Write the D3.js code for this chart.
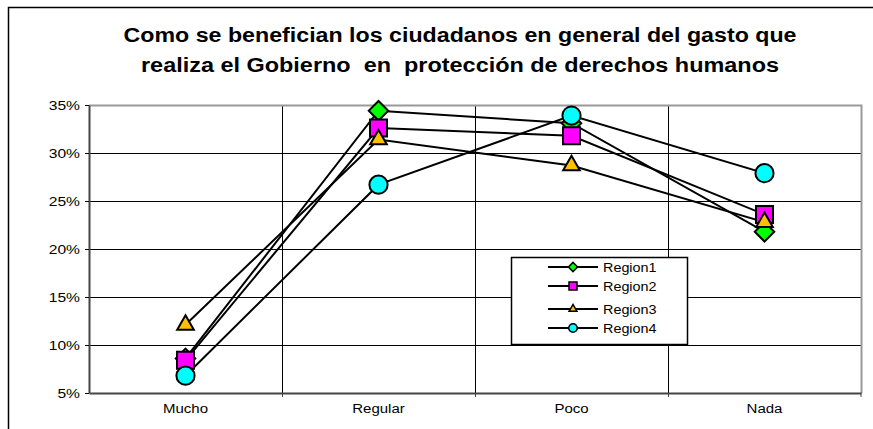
<!DOCTYPE html>
<html>
<head>
<meta charset="utf-8">
<script src="https://cdn.jsdelivr.net/npm/d3@7"></script>
<style>
body { margin: 0; background: #fff; }
svg { display: block; font-family: "Liberation Sans", Arial, sans-serif; }
</style>
</head>
<body>
<script>
// datos
var categorias = ["Mucho", "Regular", "Poco", "Nada"];
var region1 = [0.086, 0.344, 0.331, 0.218];
var region2 = [0.084, 0.326, 0.318, 0.236];
var region3 = [0.121, 0.314, 0.287, 0.228];
var region4 = [0.068, 0.267, 0.339, 0.279];
var nombresSeries = ["Region1", "Region2", "Region3", "Region4"];
var ticksY = [0.05, 0.10, 0.15, 0.20, 0.25, 0.30, 0.35];
var lineasTitulo = ["Como se benefician los ciudadanos en general del gasto que",
	"realiza el Gobierno  en  protección de derechos humanos"];

var width = 873;
var height = 429;
var margen = {top: 105, left: 89, right: 12, bottom: 36};

// estira el texto a lo ancho, como en la imagen original
function estirar(sel, k) {
	sel.each(function() {
		var largo = this.getComputedTextLength();
		d3.select(this).attr("textLength", largo * k).attr("lengthAdjust", "spacingAndGlyphs");
	});
}

var svg = d3.select("body").append("svg")
	.attr("width", width)
	.attr("height", height);

// marco exterior
svg.append("rect")
	.attr("x", 8.5).attr("y", 7.5)
	.attr("width", 880).attr("height", 440)
	.attr("fill", "none").attr("stroke", "#000").attr("stroke-width", 1.5);

// titulo
var anchosTitulo = [673, 638];
svg.selectAll(".titulo").data(lineasTitulo).enter().append("text")
	.attr("class", "titulo")
	.attr("x", 460)
	.attr("y", (d, i) => 42 + i * 30)
	.attr("text-anchor", "middle")
	.attr("font-weight", "bold")
	.attr("font-size", 19.5)
	.attr("fill", "#000")
	.style("white-space", "pre")
	.attr("textLength", (d, i) => anchosTitulo[i])
	.attr("lengthAdjust", "spacingAndGlyphs")
	.text(d => d);

var x = d3.scaleBand()
	.domain(categorias)
	.range([margen.left, width - margen.right]);
var y = d3.scaleLinear()
	.domain([0.05, 0.35])
	.range([height - margen.bottom, margen.top]);

var g = svg.append("g");

// lineas de cuadricula
g.selectAll(".gridY").data(ticksY.slice(1, -1)).enter().append("line")
	.attr("x1", margen.left).attr("x2", width - margen.right)
	.attr("y1", d => Math.round(y(d)) + 0.5).attr("y2", d => Math.round(y(d)) + 0.5)
	.attr("stroke", "#000").attr("stroke-width", 1);
g.selectAll(".gridX").data(categorias.slice(1)).enter().append("line")
	.attr("x1", d => Math.round(x(d)) + 0.5).attr("x2", d => Math.round(x(d)) + 0.5)
	.attr("y1", margen.top).attr("y2", height - margen.bottom)
	.attr("stroke", "#000").attr("stroke-width", 1);

// borde gris arriba y derecha
g.append("path")
	.attr("d", "M" + margen.left + "," + (margen.top + 0.5) + "H" + (width - margen.right + 0.5) + "V" + (height - margen.bottom))
	.attr("fill", "none").attr("stroke", "#999").attr("stroke-width", 2);

// ejes
var ejeY = d3.axisLeft(y).tickValues(ticksY).tickFormat(d3.format(".0%")).tickSize(4).tickSizeOuter(0);
svg.append("g")
	.attr("transform", "translate(" + margen.left + ",0)")
	.call(ejeY)
	.call(s => s.select(".domain").attr("stroke", "#444").attr("stroke-width", 2))
	.call(s => s.selectAll("text").attr("font-size", 12.5).attr("fill", "#000").attr("x", -9).attr("font-family", "Liberation Sans, Arial, sans-serif").call(estirar, 1.25));

var ejeX = d3.axisBottom(x).tickSize(0).tickSizeOuter(0);
var gx = svg.append("g")
	.attr("transform", "translate(0," + (height - margen.bottom) + ")")
	.call(ejeX)
	.call(s => s.select(".domain").attr("stroke", "#444").attr("stroke-width", 2))
	.call(s => s.selectAll("text").attr("font-size", 12.5).attr("fill", "#000").attr("dy", "1.35em").attr("font-family", "Liberation Sans, Arial, sans-serif").call(estirar, 1.2));
gx.selectAll(".sep").data(categorias.slice(1).concat(["fin"])).enter().append("line")
	.attr("x1", d => d === "fin" ? width - margen.right : Math.round(x(d)) + 0.5)
	.attr("x2", d => d === "fin" ? width - margen.right : Math.round(x(d)) + 0.5)
	.attr("y1", 0).attr("y2", 4)
	.attr("stroke", "#444");

// series
var series = [
	{nombre: nombresSeries[0], valores: region1, simbolo: d3.symbolSquare, rot: 45, tam: 190, color: "#00ff00"},
	{nombre: nombresSeries[1], valores: region2, simbolo: d3.symbolSquare, rot: 0, tam: 290, color: "#ff00ff"},
	{nombre: nombresSeries[2], valores: region3, simbolo: d3.symbolTriangle, rot: 0, tam: 120, color: "#ffc000"},
	{nombre: nombresSeries[3], valores: region4, simbolo: d3.symbolCircle, rot: 0, tam: 260, color: "#00ffff"}
];

var linea = d3.line()
	.x((d, i) => x(categorias[i]) + x.bandwidth() / 2)
	.y(d => y(d));

series.forEach(s => {
	svg.append("path")
		.datum(s.valores)
		.attr("d", linea)
		.attr("fill", "none").attr("stroke", "#000").attr("stroke-width", 2);
});
series.forEach(s => {
	svg.selectAll(null).data(s.valores).enter().append("path")
		.attr("transform", (d, i) => "translate(" + (x(categorias[i]) + x.bandwidth() / 2) + "," + y(d) + ") rotate(" + s.rot + ")")
		.attr("d", d3.symbol().type(s.simbolo).size(s.tam))
		.attr("fill", s.color).attr("stroke", "#000").attr("stroke-width", 2);
});

// leyenda
var leyenda = svg.append("g").attr("transform", "translate(511,257)");
leyenda.append("rect")
	.attr("x", 0.5).attr("y", 0.5).attr("width", 176).attr("height", 87)
	.attr("fill", "#fff").attr("stroke", "#000").attr("stroke-width", 1.5);
var posY = [10, 29, 52, 71];
series.forEach((s, i) => {
	var fila = leyenda.append("g").attr("transform", "translate(0," + posY[i] + ")");
	fila.append("line").attr("x1", 37).attr("x2", 87).attr("y1", 0).attr("y2", 0)
		.attr("stroke", "#000").attr("stroke-width", 2);
	fila.append("path").attr("transform", "translate(62,0) rotate(" + s.rot + ")")
		.attr("d", d3.symbol().type(s.simbolo).size(s.tam / 4.5))
		.attr("fill", s.color).attr("stroke", "#000").attr("stroke-width", 1.5);
	fila.append("text").attr("x", 92).attr("y", 4.5)
		.attr("font-size", 12.5).attr("fill", "#000").text(s.nombre)
		.call(estirar, 1.15);
});
</script>
</body>
</html>
